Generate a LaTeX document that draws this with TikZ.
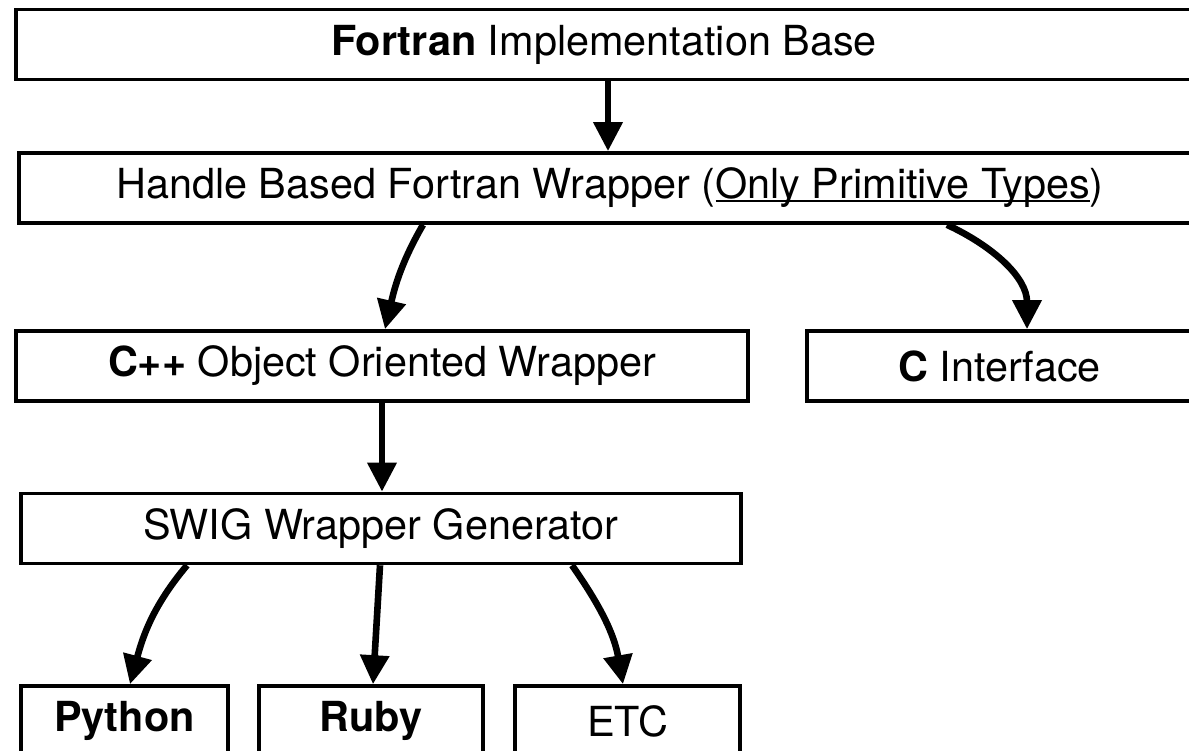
\documentclass[tikz,border=0pt]{standalone}
\usepackage{fontspec}
\setmainfont{TeX Gyre Heros}
\usetikzlibrary{arrows.meta}
\newsavebox\ulinebox
\newcommand{\ulined}[1]{\sbox\ulinebox{#1}\rlap{\rule[-1.6pt]{\wd\ulinebox}{0.9pt}}\usebox\ulinebox}

\begin{document}
\begin{tikzpicture}[x=0.5pt,y=0.5pt,
		block/.style={draw,line width=1.8pt,inner sep=0pt,minimum height=35pt,font=\fontsize{20.7}{24}\selectfont},
		link/.style={line width=3.3pt,-{Triangle[length=14.5pt,width=14pt]}}]
			\path[use as bounding box,clip] (0,0) rectangle (1189,750);
			\node[block,minimum width=588pt] (fortran) at (604,705.5) {\textbf{Fortran} Implementation Base};
			\node[block,minimum width=591pt] (handle) at (610,562) {Handle Based Fortran Wrapper (\ulined{Only Primitive Types})};
			\node[block,minimum width=366pt] (cpp) at (382,384) {\textbf{C++} Object Oriented Wrapper};
			\node[block,minimum width=192.5pt] (cif) at (999.5,384) {\textbf{C} Interface};
			\node[block,minimum width=360pt] (swig) at (381,221.5) {SWIG Wrapper Generator};
			\node[block,minimum width=103.5pt] (python) at (124.5,29) {\textbf{Python}};
			\node[block,minimum width=112pt] (ruby) at (371,29) {\textbf{Ruby}};
			\node[block,minimum width=112.5pt] (etc) at (627.5,29) {ETC};
			\draw[link] (608,0 |- fortran.south) -- (608,0 |- handle.north);
			\draw[link] (423,0 |- handle.south) to[out=240,in=77] (385,0 |- cpp.north);
			\draw[link] (947,0 |- handle.south) to[out=-25,in=90] (1027,0 |- cif.north);
			\draw[link] (cpp.south) -- (cpp.south |- swig.north);
			\draw[link] (187,0 |- swig.south) to[out=230,in=75] (130,0 |- python.north);
			\draw[link] (380,0 |- swig.south) -- (373,0 |- ruby.north);
			\draw[link] (572,0 |- swig.south) to[out=-55,in=100] (623,0 |- etc.north);
		\end{tikzpicture}
\end{document}
